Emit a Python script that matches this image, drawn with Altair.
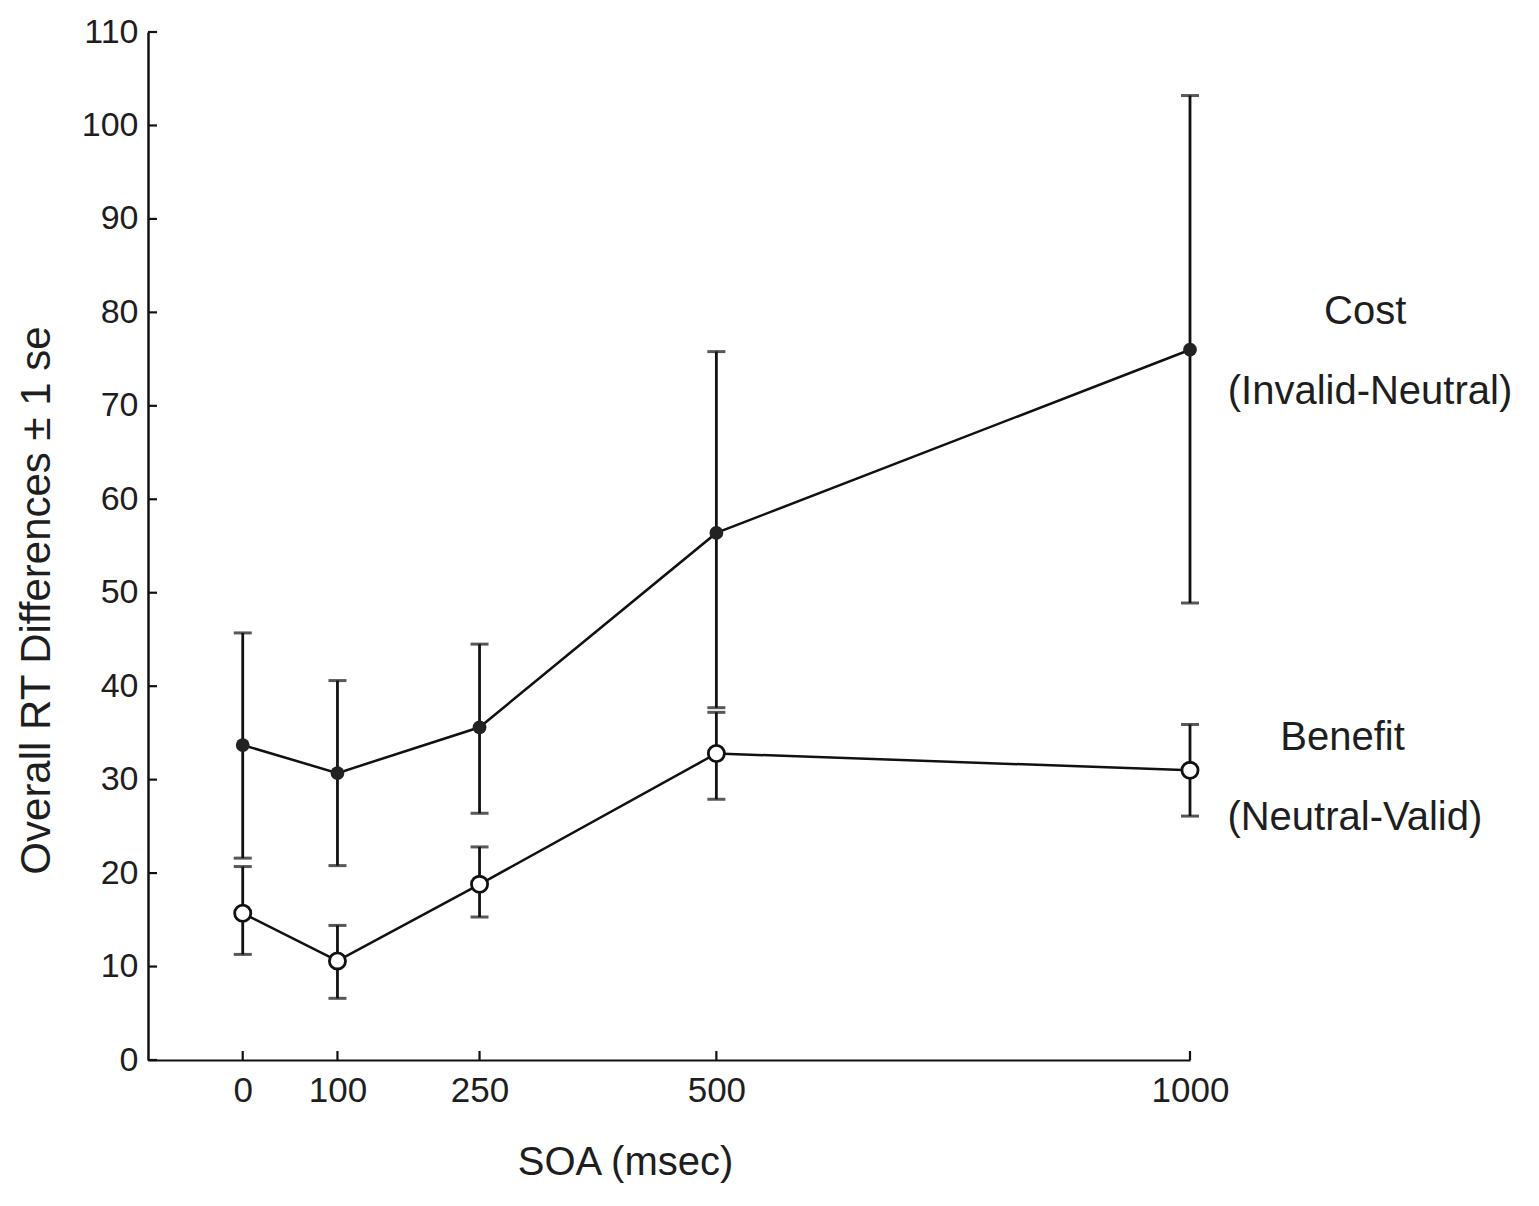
import altair as alt
import pandas as pd

# ---- data ----
soa = [0, 100, 250, 500, 1000]
cost_mean = [33.7, 30.7, 35.6, 56.4, 76.0]
cost_lo = [21.6, 20.8, 26.4, 37.7, 48.9]
cost_hi = [45.7, 40.6, 44.5, 75.8, 103.2]
benefit_mean = [15.7, 10.6, 18.8, 32.8, 31.0]
benefit_lo = [11.3, 6.6, 15.3, 27.9, 26.1]
benefit_hi = [20.7, 14.4, 22.8, 37.2, 35.9]

y_tick_values = [0, 10, 20, 30, 40, 50, 60, 70, 80, 90, 100, 110]
x_tick_values = [0, 100, 250, 500, 1000]

ann_text = ["Cost", "(Invalid-Neutral)", "Benefit", "(Neutral-Valid)"]
ann_x = [1185, 1190, 1161, 1174]
ann_y = [80.0, 71.5, 34.5, 25.9]

W, H = 1042, 1028
FONT = "Liberation Sans"
INK = "#1e1e1e"

rows = []
for i, s in enumerate(soa):
    rows.append(dict(soa=s, series="Cost", mean=cost_mean[i], lo=cost_lo[i], hi=cost_hi[i]))
    rows.append(dict(soa=s, series="Benefit", mean=benefit_mean[i], lo=benefit_lo[i], hi=benefit_hi[i]))
df = pd.DataFrame(rows)

xs = alt.Scale(domain=[-100, 1000], nice=False, zero=False)
ys = alt.Scale(domain=[0, 110], nice=False)

xaxis = alt.Axis(values=x_tick_values, format="d", ticks=False, grid=False, labelFontSize=35,
                 labelFont=FONT, labelColor=INK, labelPadding=13, labelFlush=False,
                 domainColor="#111", domainWidth=2, title="SOA (msec)", titleFont=FONT,
                 titleFontSize=40, titleFontWeight="normal", titleColor=INK,
                 titleX=477, titleY=82)
yaxis = alt.Axis(values=y_tick_values, format="d", ticks=False, grid=False, labelFontSize=34,
                 labelFont=FONT, labelColor=INK, labelPadding=10, labelFlush=False,
                 domainColor="#111", domainWidth=2.5,
                 title="Overall RT Differences \u00b1 1 se", titleFont=FONT,
                 titleFontSize=42, titleFontWeight="normal", titleColor=INK,
                 titleX=-90, titleY=568)

base = alt.Chart(df)

bars = base.mark_rule(color="#111", strokeWidth=2.8).encode(
    x=alt.X("soa:Q", scale=xs, axis=xaxis),
    y=alt.Y("lo:Q", scale=ys, axis=yaxis),
    y2="hi:Q",
)
cap_lo = base.mark_tick(color="#111", orient="horizontal", size=18, thickness=3).encode(
    x=alt.X("soa:Q", scale=xs), y=alt.Y("lo:Q", scale=ys))
cap_hi = base.mark_tick(color="#111", orient="horizontal", size=18, thickness=3).encode(
    x=alt.X("soa:Q", scale=xs), y=alt.Y("hi:Q", scale=ys))

lines = base.mark_line(color="#111", strokeWidth=2.5).encode(
    x=alt.X("soa:Q", scale=xs), y=alt.Y("mean:Q", scale=ys), detail="series:N")

pts_cost = alt.Chart(df[df.series == "Cost"]).mark_point(
    shape="circle", filled=True, color="#222", size=190, opacity=1).encode(
    x=alt.X("soa:Q", scale=xs), y=alt.Y("mean:Q", scale=ys))
pts_ben = alt.Chart(df[df.series == "Benefit"]).mark_point(
    shape="circle", filled=True, fill="white", stroke="#111", strokeWidth=2.8,
    size=260, opacity=1).encode(
    x=alt.X("soa:Q", scale=xs), y=alt.Y("mean:Q", scale=ys))

ytick_df = pd.DataFrame({"v": y_tick_values})
yticks = alt.Chart(ytick_df).mark_rule(color="#111", strokeWidth=2.2).encode(
    y=alt.Y("v:Q", scale=ys), x=alt.value(0), x2=alt.value(9))
xtick_df = pd.DataFrame({"v": x_tick_values})
xticks = alt.Chart(xtick_df).mark_rule(color="#111", strokeWidth=2.2).encode(
    x=alt.X("v:Q", scale=xs), y=alt.value(H), y2=alt.value(H - 9))

ann_df = pd.DataFrame({"t": ann_text, "x": ann_x, "y": ann_y})
ann = alt.Chart(ann_df).mark_text(font=FONT, fontSize=40, color=INK, align="center",
                                  baseline="middle", clip=False).encode(
    x=alt.X("x:Q", scale=xs), y=alt.Y("y:Q", scale=ys), text="t:N")

chart = alt.layer(yticks, xticks, bars, cap_lo, cap_hi, lines, pts_cost, pts_ben, ann).properties(
    width=W, height=H,
    background="white",
    autosize=alt.AutoSizeParams(type="none"),
    padding={"left": 148, "top": 32, "right": 349, "bottom": 146},
).configure_view(stroke=None)

chart.save("out.html", embed_options={"renderer": "svg", "actions": False})
